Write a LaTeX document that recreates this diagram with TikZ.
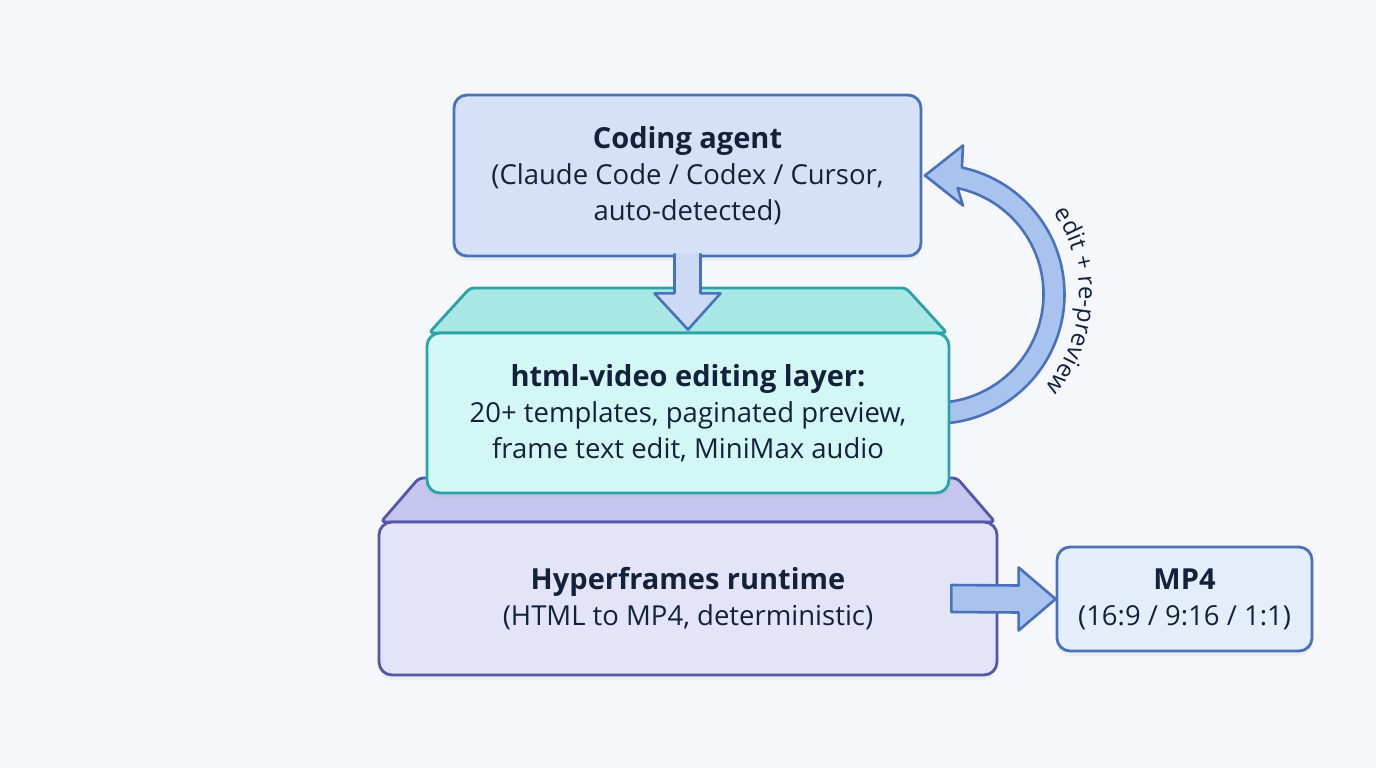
\documentclass[tikz,border=0pt]{standalone}
\usepackage{fontspec}
\setmainfont{Open Sans}
\usetikzlibrary{calc,shadows,decorations.text}

\definecolor{bgpaper}{HTML}{F5F7FB}
\definecolor{ink}{HTML}{14213A}
\definecolor{agentfill}{HTML}{D5E1F7}
\definecolor{agentline}{HTML}{4A72BA}
\definecolor{layerfill}{HTML}{D3F7F5}
\definecolor{layertop}{HTML}{A8E7E4}
\definecolor{layerline}{HTML}{2BA3A6}
\definecolor{runfill}{HTML}{E3E4F7}
\definecolor{runtop}{HTML}{C6C7EE}
\definecolor{runline}{HTML}{5457A6}
\definecolor{mpfill}{HTML}{E4EEFB}
\definecolor{arrowfill}{HTML}{A9C3EF}
\definecolor{arrowpale}{HTML}{CCDAF5}

\newcommand{\boxtitle}[1]{{\fontsize{29}{36}\selectfont\bfseries #1}}

\tikzset{
  box/.style={rectangle, rounded corners=13pt, line width=2.8pt, align=center,
    text=ink, font=\fontsize{27.5}{36}\selectfont, inner sep=0pt,
    drop shadow={opacity=0.07, shadow xshift=0pt, shadow yshift=-5pt}},
  slabtop/.style={line width=2.8pt, line join=round, rounded corners=4pt},
  fatarrow/.style={fill=arrowfill, draw=agentline, line width=2.6pt, line join=round},
}

\begin{document}
\begin{tikzpicture}[x=1pt, y=1pt]
	\fill[bgpaper] (0,0) rectangle (1376,-768);
	\useasboundingbox (0,0) rectangle (1376,-768);
	
	% anchor points for the loop
	\coordinate (agentE) at (921,-175.5);
	\coordinate (layerE) at (949,-413);
	\coordinate (loopc) at ($(agentE)!0.5!(layerE)$);
	
	% feedback loop
	\filldraw[fatarrow] ($(loopc)+(-90:129.5)$) arc[start angle=-90, end angle=78, radius=129.5]
		-- ($(agentE)+(42,30)$) -- ($(agentE)+(4,0)$) -- ($(agentE)+(42,-30)$)
		-- ($(loopc)+(78:108.5)$) arc[start angle=78, end angle=-90, radius=108.5] -- cycle;
	\path[decorate, decoration={text along path, text align=center,
		text={|\fontsize{24}{28}\selectfont\color{ink}|edit + re-preview}}]
		($(loopc)+(62:144)$) arc[start angle=62, end angle=-68, radius=144];
	
	% runtime slab
	\filldraw[slabtop, fill=runtop, draw=runline] (381,-522) -- (419,-478) -- (957,-478) -- (995,-522) -- cycle;
	\node[box, fill=runfill, draw=runline, minimum width=618pt, minimum height=153pt] (runtime) at (688,-598.5)
		{\boxtitle{Hyperframes runtime}\\(HTML to MP4, deterministic)};
	
	% editing layer slab
	\filldraw[slabtop, fill=layertop, draw=layerline] (429,-333) -- (470,-288) -- (906,-288) -- (947,-333) -- cycle;
	\node[box, fill=layerfill, draw=layerline, minimum width=522pt, minimum height=160pt] (layer) at (688,-413)
		{\boxtitle{html-video editing layer:}\\20+ templates, paginated preview,\\frame text edit, MiniMax audio};
	
	% agent
	\node[box, fill=agentfill, draw=agentline, minimum width=467pt, minimum height=161pt] (agent) at (687.5,-175.5)
		{\boxtitle{Coding agent}\\(Claude Code / Codex / Cursor,\\auto-detected)};
	
	% output
	\node[box, fill=mpfill, draw=agentline, minimum width=255pt, minimum height=104pt] (mp4) at (1184.5,-599)
		{\boxtitle{MP4}\\(16:9 / 9:16 / 1:1)};
	
	% agent -> layer
	\filldraw[fatarrow, fill=arrowpale] ($(agent.south)+(-13,4)$) -- ($(agent.south)+(-13,-36)$)
		-- ($(agent.south)+(-33,-36)$) -- ($(layer.north)+(0,2)$) -- ($(agent.south)+(33,-36)$)
		-- ($(agent.south)+(13,-36)$) -- ($(agent.south)+(13,4)$);
	
	% runtime -> mp4
	\filldraw[fatarrow] ($(runtime.east)+(-47,13.5)$) -- ($(mp4.west)+(-37,13.5)$) -- ($(mp4.west)+(-37,31.5)$)
		-- (mp4.west) -- ($(mp4.west)+(-37,-31.5)$) -- ($(mp4.west)+(-37,-13.5)$)
		-- ($(runtime.east)+(-47,-13.5)$) -- cycle;
\end{tikzpicture}
\end{document}
